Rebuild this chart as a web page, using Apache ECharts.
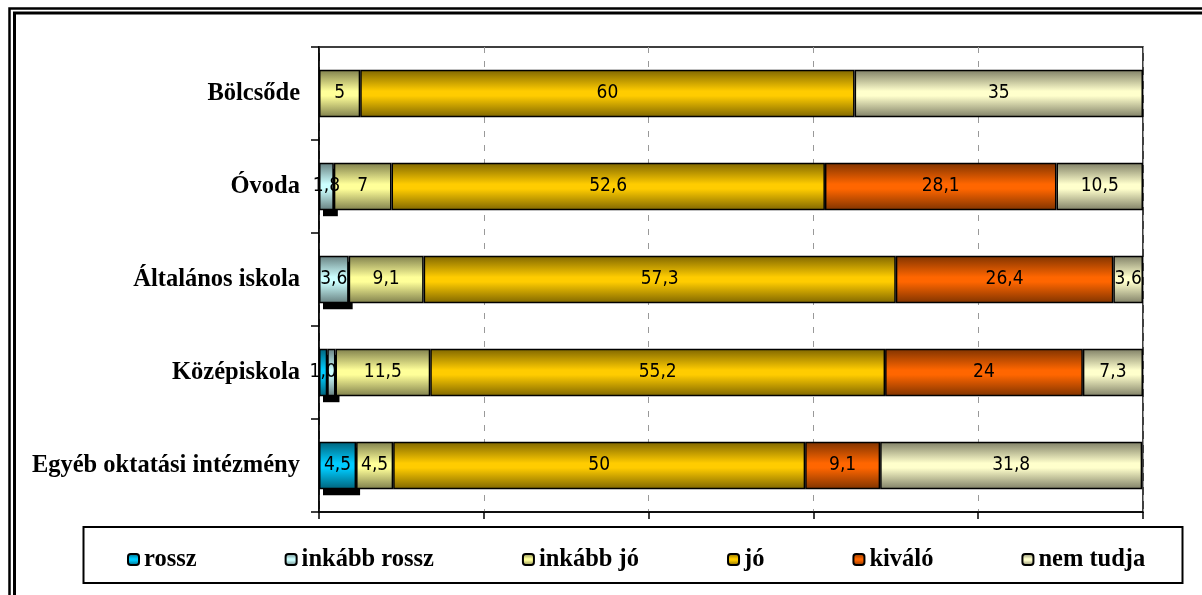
<!DOCTYPE html>
<html>
<head>
<meta charset="utf-8">
<script src="https://cdn.jsdelivr.net/npm/echarts@6/dist/echarts.min.js"></script>
<style>
  html, body { margin: 0; padding: 0; background: #fff; }
  #chart { width: 1202px; height: 595px; }
</style>
</head>
<body>
<div id="chart"></div>
<script>
// adatok (százalék)
const categories = ["Bölcsőde", "Óvoda", "Általános iskola", "Középiskola", "Egyéb oktatási intézmény"];
const rossz = [0, 0, 0, 1.0, 4.5];
const inkabbRossz = [0, 1.8, 3.6, 1.0, 0];
const inkabbJo = [5, 7, 9.1, 11.5, 4.5];
const jo = [60, 52.6, 57.3, 55.2, 50];
const kivalo = [0, 28.1, 26.4, 24, 9.1];
const nemTudja = [35, 10.5, 3.6, 7.3, 31.8];
const seriesNames = ["rossz", "inkább rossz", "inkább jó", "jó", "kiváló", "nem tudja"];
const seriesData = [rossz, inkabbRossz, inkabbJo, jo, kivalo, nemTudja];

const lightColors = ["#00CCFF", "#CCFFFF", "#FFFF99", "#FFCC00", "#FF6600", "#FFFFCC"];
const darkColors = ["#00627a", "#667f7f", "#7f7f4c", "#7f6600", "#7f3300", "#7f7f66"];

const chart = echarts.init(document.getElementById("chart"));

function fill(i) {
  return new echarts.graphic.LinearGradient(0, 0, 0, 1, [
    { offset: 0, color: darkColors[i] },
    { offset: 0.45, color: lightColors[i] },
    { offset: 0.55, color: lightColors[i] },
    { offset: 1, color: darkColors[i] },
  ]);
}

function fmt(v) {
  return (v < 2 ? v.toFixed(1) : String(v)).replace(".", ",");
}

const series = seriesNames.map((name, i) => ({
  name: name,
  type: "bar",
  stack: "total",
  barWidth: "51%",
  z: 3,
  data: seriesData[i].map((v) => (v ? v : "-")),
  itemStyle: {
    color: fill(i),
    borderColor: "#000",
    borderWidth: 1.5,
  },
  label: {
    show: true,
    position: "inside",
    color: "#000",
    fontFamily: "'DejaVu Sans Condensed', 'DejaVu Sans', sans-serif",
    fontSize: 19,
    formatter: (p) => fmt(p.value),
  },
  labelLayout: { hideOverlap: true },
}));

// fekete árnyék a "rossz" + "inkább rossz" sávok alatt
series.push({
  name: "árnyék",
  type: "custom",
  z: 1,
  silent: true,
  encode: { x: 1, y: 0 },
  data: categories.map((c, i) => [i, rossz[i] + inkabbRossz[i]]),
  renderItem: (params, api) => {
    const yi = api.value(0);
    const start = api.coord([0, yi]);
    const end = api.coord([api.value(1), yi]);
    const h = api.size([0, 1])[1] * 0.51;
    return {
      type: "rect",
      shape: { x: start[0] + 4, y: start[1] - h / 2 + 6, width: end[0] - start[0], height: h },
      style: { fill: "#000" },
    };
  },
});

const option = {
  animation: false,
  backgroundColor: "#fff",
  grid: {
    left: 319,
    right: 59,
    top: 47,
    height: 465,
    show: true,
    borderColor: "#000",
    borderWidth: 1.5,
  },
  legend: {
    data: seriesNames,
    left: 122,
    top: 542,
    itemWidth: 11,
    itemHeight: 11,
    itemGap: 88,
    textStyle: {
      fontFamily: "'Liberation Serif', serif",
      fontWeight: "bold",
      fontSize: 24.5,
      color: "#000",
    },
  },
  xAxis: {
    type: "value",
    min: 0,
    max: 100,
    interval: 20,
    axisLine: { show: true, lineStyle: { color: "#000", width: 1.5 } },
    axisTick: { show: true, length: 7, lineStyle: { color: "#000", width: 1.5 } },
    axisLabel: { show: false },
    splitLine: { show: true, lineStyle: { color: "#999", type: [6, 8], width: 1 } },
  },
  yAxis: {
    type: "category",
    inverse: true,
    data: categories,
    axisLine: { show: true, lineStyle: { color: "#000", width: 1.5 } },
    axisTick: { show: true, length: 8, lineStyle: { color: "#000", width: 1.5 } },
    axisLabel: {
      margin: 19,
      color: "#000",
      fontFamily: "'Liberation Serif', serif",
      fontWeight: "bold",
      fontSize: 24.5,
    },
  },
  graphic: [
    // keret
    { type: "rect", shape: { x: 9.5, y: 8.5, width: 1260, height: 660 },
      style: { fill: "none", stroke: "#000", lineWidth: 2.5 }, silent: true },
    { type: "rect", shape: { x: 14.5, y: 13, width: 1250, height: 650 },
      style: { fill: "none", stroke: "#000", lineWidth: 3 }, silent: true },
    // jelmagyarázat kerete
    { type: "rect", shape: { x: 83.5, y: 527, width: 1099, height: 56 },
      style: { fill: "none", stroke: "#000", lineWidth: 2 }, silent: true },
  ],
  series: series,
};

chart.setOption(option);
</script>
</body>
</html>
